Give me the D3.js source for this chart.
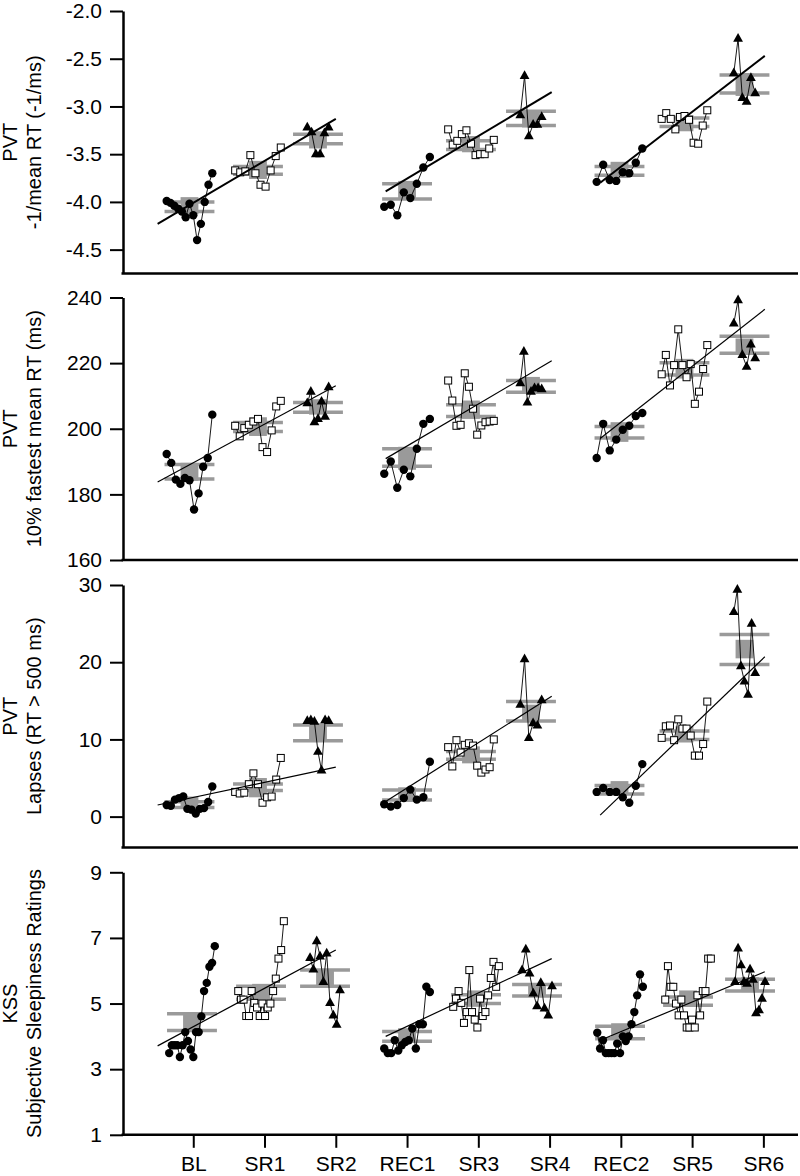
<!DOCTYPE html>
<html><head><meta charset="utf-8">
<script src="https://cdn.jsdelivr.net/npm/d3@7"></script>
<style>body{margin:0;background:#fff}svg{display:block;font-family:"Liberation Sans",Arial,sans-serif}</style>
</head><body><svg id="chart" width="800" height="1176"></svg>
<script>
// ---------- data ----------
const categories = ["BL","SR1","SR2","REC1","SR3","SR4","REC2","SR5","SR6"];
// session centres (in category units) for PVT and KSS sessions
const pvtCenters = [0.947, 1.908, 2.75, 4.0, 4.897, 5.739, 6.981, 7.893, 8.735];
const kssCenters = [0.982, 1.951, 2.849, 4.0, 4.968, 5.824, 6.989, 7.943, 8.813];
// regression x-range per block (category units)
const fitX = [[0.50, 3.00], [3.70, 6.03], [6.71, 9.02]];

// Panel 1: PVT -1/mean RT
const invRT = [
  [-3.99,-4.01,-4.04,-4.07,-4.10,-4.16,-4.02,-4.14,-4.40,-4.23,-4.00,-3.82,-3.70],
  [-3.67,-3.69,-3.68,-3.51,-3.70,-3.82,-3.84,-3.67,-3.52,-3.43],
  [-3.22,-3.27,-3.50,-3.50,-3.28,-3.22],
  [-4.05,-4.03,-4.14,-3.90,-3.96,-3.81,-3.64,-3.53],
  [-3.24,-3.40,-3.36,-3.29,-3.25,-3.39,-3.51,-3.50,-3.50,-3.44,-3.35],
  [-3.09,-2.68,-3.31,-3.19,-3.19,-3.11],
  [-3.79,-3.61,-3.77,-3.78,-3.69,-3.70,-3.59,-3.44],
  [-3.13,-3.07,-3.13,-3.24,-3.11,-3.10,-3.14,-3.38,-3.39,-3.20,-3.04],
  [-2.65,-2.29,-2.91,-2.95,-2.70,-2.86]
];
const invRTLineHi = [-4.00,-3.63,-3.29,-3.81,-3.36,-3.05,-3.63,-3.12,-2.67];
const invRTLineLo = [-4.10,-3.71,-3.39,-3.97,-3.45,-3.20,-3.72,-3.21,-2.86];
const invRTBoxHi  = [-3.95,-3.57,-3.26,-3.78,-3.31,-3.04,-3.58,-3.09,-2.65];
const invRTBoxLo  = [-4.13,-3.76,-3.44,-3.98,-3.48,-3.22,-3.75,-3.26,-2.89];
const invRTFit    = [[-4.23,-3.13],[-3.89,-2.85],[-3.80,-2.47]];

// Panel 2: PVT 10% fastest mean RT
const fastRT = [
  [192.3,189.6,184.5,183.2,185.0,184.3,175.4,180.3,188.4,191.1,204.3],
  [200.9,197.7,200.2,201.2,202.2,203.0,194.4,192.9,199.5,206.8,208.5],
  [207.8,211.3,202.0,203.0,208.3,203.7,212.7],
  [186.3,190.0,182.0,187.5,185.5,193.9,201.5,203.0],
  [214.7,208.6,200.9,201.2,216.9,212.8,206.1,198.2,201.0,202.0,202.2,202.4],
  [213.9,223.5,208.0,211.3,212.4,212.4,212.1],
  [191.1,201.5,193.4,196.7,199.7,200.9,203.9,204.8],
  [216.6,222.5,213.2,219.4,230.3,219.4,215.7,219.7,207.6,211.3,218.2,225.5],
  [232.1,239.2,222.5,218.9,225.7,221.5]
];
const fastRTLineHi = [189.1,201.9,208.0,193.9,207.3,214.7,200.7,220.1,228.2];
const fastRTLineLo = [184.7,199.2,205.0,188.6,203.7,211.1,197.2,216.4,223.0];
const fastRTBoxHi  = [189.6,203.5,209.0,194.5,208.6,215.8,202.0,221.3,227.5];
const fastRTBoxLo  = [184.1,197.8,204.3,187.5,203.0,210.6,196.0,215.3,222.5];
const fastRTFit    = [[183.8,213.1],[190.9,220.7],[197.0,236.4]];

// Panel 3: PVT lapses
const lapses = [
  [1.5,1.4,2.2,2.4,2.6,1.0,0.9,0.4,1.0,1.1,1.9,3.9],
  [3.2,3.0,3.1,4.2,5.6,4.2,1.8,2.5,2.6,4.8,7.6],
  [12.4,12.5,12.3,8.4,6.0,12.5,12.4],
  [1.6,1.3,1.5,2.4,3.5,2.2,2.5,7.1],
  [9.0,6.5,9.9,8.3,9.3,9.5,9.2,6.6,5.7,6.1,6.4,10.0],
  [14.5,20.4,10.2,12.1,11.8,15.1],
  [3.2,3.7,3.2,3.2,2.5,1.8,4.0,6.8],
  [10.2,11.7,11.8,9.9,12.6,11.4,11.4,10.5,7.9,7.9,9.4,14.9],
  [26.5,29.4,19.5,17.5,15.8,25.0,18.6]
];
const lapsesLineHi = [1.94,4.23,11.87,3.46,8.42,14.9,4.02,11.1,23.6];
const lapsesLineLo = [1.17,3.37,9.84,2.16,7.43,12.4,2.94,10.0,19.7];
const lapsesBoxHi  = [2.6,5.0,11.9,3.8,9.1,14.5,4.6,11.7,22.9];
const lapsesBoxLo  = [1.1,2.5,9.9,1.9,6.9,12.3,3.0,9.6,20.5];
const lapsesFit    = [[1.5,6.4],[1.95,15.6],[0.2,20.7]];

// Panel 4: KSS
const kss = [
  [3.49,3.73,3.73,3.73,3.37,3.73,4.13,3.86,3.60,3.37,4.13,4.13,4.61,5.38,5.63,6.12,6.24,6.75],
  [5.38,5.12,5.12,4.62,4.62,5.38,5.02,4.88,4.62,5.0,4.62,4.88,5.0,5.38,5.76,6.37,6.63,7.51],
  [6.39,6.04,6.90,6.44,5.66,6.53,5.02,4.64,4.36,5.41],
  [3.63,3.49,3.49,3.88,3.57,3.73,3.83,3.88,4.24,3.63,4.37,4.37,5.51,5.35],
  [4.90,5.15,5.38,5.02,4.41,4.74,6.02,4.74,4.51,4.27,5.15,4.62,4.74,5.25,5.78,6.27,5.51,6.14],
  [6.02,6.65,5.92,5.31,4.92,5.63,4.85,4.64,5.53],
  [4.11,3.63,3.88,3.49,3.49,3.49,3.49,3.78,3.49,4.0,3.86,4.0,4.37,4.74,5.25,5.89,5.51],
  [5.12,6.14,5.51,5.51,5.0,4.64,5.12,4.64,4.27,4.27,4.51,4.27,5.25,4.64,5.38,5.38,6.37,6.37],
  [5.66,6.68,6.17,5.66,5.61,6.04,5.73,4.71,4.80,5.15,5.66]
];
const kssLineHi = [4.69,5.53,6.02,4.15,5.27,5.58,4.31,5.20,5.74];
const kssLineLo = [4.18,5.13,5.53,3.85,5.00,5.23,3.93,4.95,5.38];
const kssBoxHi  = [4.70,5.60,6.02,4.25,5.40,5.60,4.40,5.40,5.80];
const kssBoxLo  = [4.18,5.10,5.52,3.85,4.90,5.20,3.93,4.90,5.35];
const kssFit    = [[3.71,6.63],[4.00,6.37],[3.88,5.97]];

const invRTMajor = [-4.5,-4.0,-3.5,-3.0,-2.5,-2.0];
const invRTMinor = [-4.75,-4.25,-3.75,-3.25,-2.75,-2.25];
const fastRTMajor = [160,180,200,220,240];
const fastRTMinor = [170,190,210,230];
const lapsesMajor = [0,10,20,30];
const lapsesMinor = [5,15,25];
const kssMajor = [1,3,5,7,9];
const kssMinor = [2,4,6,8];

// ---------- drawing ----------
const svg = d3.select("#chart");
svg.append("rect").attr("width",800).attr("height",1176).attr("fill","#fff");
const x = d3.scaleLinear().domain([0, 9.5]).range([122, 799]);
const GRAY = "#9a9a9a";

const panels = [
  {vals: invRT, lhi: invRTLineHi, llo: invRTLineLo, bhi: invRTBoxHi, blo: invRTBoxLo, fit: invRTFit,
   domain: [-4.75,-2.0], top: 11, major: invRTMajor, minor: invRTMinor, fmt: v => v.toFixed(1),
   titles: ["PVT","-1/mean RT (-1/ms)"], centers: pvtCenters, triSpan: 0.15, fitW: 2},
  {vals: fastRT, lhi: fastRTLineHi, llo: fastRTLineLo, bhi: fastRTBoxHi, blo: fastRTBoxLo, fit: fastRTFit,
   domain: [160,240], top: 297.5, major: fastRTMajor, minor: fastRTMinor, fmt: v => String(v),
   titles: ["PVT","10% fastest mean RT (ms)"], centers: pvtCenters, triSpan: 0.15, fitW: 1.2},
  {vals: lapses, lhi: lapsesLineHi, llo: lapsesLineLo, bhi: lapsesBoxHi, blo: lapsesBoxLo, fit: lapsesFit,
   domain: [-4,30], top: 585, major: lapsesMajor, minor: lapsesMinor, fmt: v => String(v),
   titles: ["PVT","Lapses (RT > 500 ms)"], centers: pvtCenters, triSpan: 0.15, fitW: 1.2},
  {vals: kss, lhi: kssLineHi, llo: kssLineLo, bhi: kssBoxHi, blo: kssBoxLo, fit: kssFit,
   domain: [1,9], top: 872.3, major: kssMajor, minor: kssMinor, fmt: v => String(v),
   titles: ["KSS","Subjective Sleepiness Ratings"], centers: kssCenters, triSpan: 0.21, fitW: 1.2, xLabels: true}
];
const H = 262.5;
const triPath = "M0,-5.6L4.9,3.1L-4.9,3.1Z";

panels.forEach(p => {
  const y = d3.scaleLinear().domain(p.domain).range([p.top + H, p.top]);
  const g = svg.append("g");

  // gray summary lines and boxes
  p.centers.forEach((c, i) => {
    [p.lhi[i], p.llo[i]].forEach(v => {
      g.append("line").attr("x1", x(c - 0.35)).attr("x2", x(c + 0.35))
        .attr("y1", y(v)).attr("y2", y(v))
        .attr("stroke", GRAY).attr("stroke-width", 3.5);
    });
    g.append("rect").attr("x", x(c - 0.125)).attr("width", x(c + 0.125) - x(c - 0.125))
      .attr("y", y(p.bhi[i])).attr("height", y(p.blo[i]) - y(p.bhi[i]))
      .attr("fill", GRAY);
  });

  // data series per session
  p.vals.forEach((arr, i) => {
    const kind = i % 3;
    const span = kind === 2 ? p.triSpan : 0.32;
    const c = p.centers[i];
    const n = arr.length;
    const pts = arr.map((v, j) => [c - span + (n > 1 ? 2 * span * j / (n - 1) : span), v]);
    g.append("path").datum(pts)
      .attr("d", d3.line().x(d => x(d[0])).y(d => y(d[1])))
      .attr("fill", "none").attr("stroke", "#000").attr("stroke-width", 0.9);
    const m = g.selectAll(null).data(pts).enter();
    if (kind === 0) {
      m.append("circle").attr("cx", d => x(d[0])).attr("cy", d => y(d[1])).attr("r", 4.2).attr("fill", "#000");
    } else if (kind === 1) {
      m.append("rect").attr("x", d => x(d[0]) - 3.5).attr("y", d => y(d[1]) - 3.5)
        .attr("width", 7).attr("height", 7).attr("fill", "#fff").attr("stroke", "#000").attr("stroke-width", 1);
    } else {
      m.append("path").attr("d", triPath)
        .attr("transform", d => `translate(${x(d[0])},${y(d[1])})`).attr("fill", "#000");
    }
  });

  // regression lines
  p.fit.forEach((f, k) => {
    g.append("line").attr("x1", x(fitX[k][0])).attr("x2", x(fitX[k][1]))
      .attr("y1", y(f[0])).attr("y2", y(f[1]))
      .attr("stroke", "#000").attr("stroke-width", p.fitW);
  });

  // left axis
  const ax = g.append("g").attr("transform", "translate(123,0)");
  ax.call(d3.axisLeft(y).tickValues(p.minor).tickSize(8).tickSizeOuter(0).tickFormat(""));
  ax.call(d3.axisLeft(y).tickValues(p.major).tickSize(13).tickSizeOuter(0).tickPadding(8).tickFormat(p.fmt));
  ax.selectAll("path.domain").attr("stroke-width", 2.5);
  ax.selectAll(".tick line").attr("stroke-width", 2);
  ax.selectAll("text").attr("font-size", 21).attr("font-family", "Liberation Sans, Arial, sans-serif").attr("fill", "#000");

  // bottom axis
  const bx = g.append("g").attr("transform", `translate(0,${p.top + H})`);
  const xa = d3.axisBottom(x).tickSizeOuter(0);
  if (p.xLabels) {
    xa.tickValues(d3.range(1, 10)).tickSize(13).tickPadding(8).tickFormat(d => categories[d - 1]);
  } else {
    xa.tickValues([]);
  }
  bx.call(xa);
  bx.select("path.domain").attr("d", `M121.5,0H798`).attr("stroke-width", 2.5);
  bx.selectAll(".tick line").attr("stroke-width", 2);
  bx.selectAll("text").attr("font-size", 21).attr("font-family", "Liberation Sans, Arial, sans-serif").attr("fill", "#000");

  // titles
  const cy = p.top + H / 2;
  [[p.titles[0], 17], [p.titles[1], 41]].forEach(([t, tx]) => {
    svg.append("text").attr("transform", `translate(${tx},${cy}) rotate(-90)`)
      .attr("text-anchor", "middle").attr("font-size", 20).attr("fill", "#000").text(t);
  });
});
</script>
</body></html>
